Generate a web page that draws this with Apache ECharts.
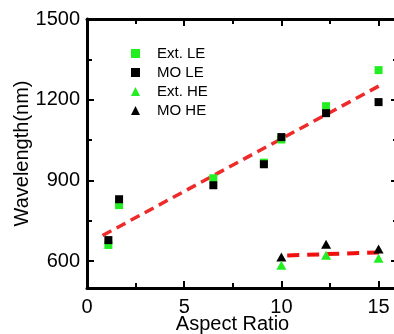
<!DOCTYPE html>
<html>
<head>
<meta charset="utf-8">
<script src="https://cdn.jsdelivr.net/npm/echarts@6/dist/echarts.min.js"></script>
<style>
  html, body { margin: 0; padding: 0; background: #fff; }
  #chart { width: 394px; height: 334px; }
</style>
</head>
<body>
<div id="chart"></div>
<script>
// 数据
var leX = [1.1, 1.65, 6.5, 9.1, 10, 12.3, 15];
var extLE = [660, 808, 908, 966, 1052, 1176, 1310];
var moLE = [678, 830, 882, 960, 1061, 1150, 1191];
var heX = [10, 12.3, 15];
var extHE = [585, 622, 611];
var moHE = [615, 663, 645];
// 拟合线 (两端点)
var fitLEX = [0.8, 15.2];
var fitLEY = [695, 1258];
var fitHEX = [10.3, 15.3];
var fitHEY = [621, 633];
// 刻度
var xMajor = [0, 5, 10, 15];
var xMinor = [2.5, 7.5, 12.5];
var yMajor = [600, 900, 1200, 1500];
var yMinor = [750, 1050, 1350];

function pairs(xs, ys) {
    return xs.map(function (x, i) { return [x, ys[i]]; });
}

var FONT = 'Liberation Sans, Arial, sans-serif';
var GREEN = '#22ee22';
var lbl = { fontSize: 20, color: '#000', fontFamily: FONT };

function axis(pos, min, max, ticks, len, showLine, showLabel) {
    return {
        type: 'value', position: pos, min: min, max: max,
        axisLine: { show: showLine, onZero: false, lineStyle: { color: '#000', width: 3 } },
        axisTick: { show: true, inside: true, length: len, customValues: ticks,
                    lineStyle: { color: '#000', width: 2 } },
        axisLabel: { show: showLabel, customValues: ticks, margin: pos === 'left' ? 7 : 9,
                     fontSize: 20, color: '#000', fontFamily: FONT,
                     formatter: function (v) { return String(v); } },
        splitLine: { show: false }
    };
}

var xAxes = [
    axis('bottom', 0, 16, xMajor, 7, true, true),
    axis('bottom', 0, 16, xMinor, 5, false, false),
    axis('top', 0, 16, xMajor, 7, true, false),
    axis('top', 0, 16, xMinor, 5, false, false)
];
xAxes[0].name = 'Aspect Ratio';
xAxes[0].nameLocation = 'middle';
xAxes[0].nameGap = 26;
xAxes[0].nameMoveOverlap = false;
xAxes[0].nameTextStyle = Object.assign({ padding: [0, 20, 0, 0] }, lbl);

var yAxes = [
    axis('left', 500, 1500, yMajor, 7, true, true),
    axis('left', 500, 1500, yMinor, 5, false, false),
    axis('right', 500, 1500, yMajor, 7, true, false),
    axis('right', 500, 1500, yMinor, 5, false, false)
];
yAxes[0].name = 'Wavelength(nm)';
yAxes[0].nameLocation = 'middle';
yAxes[0].nameGap = 55;
yAxes[0].nameMoveOverlap = false;
yAxes[0].nameTextStyle = lbl;

var myChart = echarts.init(document.getElementById('chart'));
var option = {
    animation: false,
    grid: { left: 87, top: 19, width: 311, height: 269, containLabel: false, outerBoundsMode: 'none' },
    xAxis: xAxes,
    yAxis: yAxes,
    legend: {
        orient: 'vertical', left: 126, top: 41,
        itemWidth: 9, itemHeight: 9, itemGap: 4,
        textStyle: { fontSize: 15, color: '#000', fontFamily: FONT, padding: [0, 0, 0, 12], lineHeight: 14 },
        data: [
            { name: 'Ext. LE', icon: 'rect' },
            { name: 'MO LE', icon: 'rect' },
            { name: 'Ext. HE', icon: 'triangle' },
            { name: 'MO HE', icon: 'triangle' }
        ]
    },
    series: [
        { name: 'LE fit', type: 'line', data: pairs(fitLEX, fitLEY), symbol: 'none',
          lineStyle: { color: '#ee2a2a', width: 3.5, type: [10, 6] }, z: 1 },
        { name: 'HE fit', type: 'line', data: pairs(fitHEX, fitHEY), symbol: 'none',
          lineStyle: { color: '#f01010', width: 4, type: [12, 8] }, z: 1 },
        { name: 'MO LE', type: 'scatter', data: pairs(leX, moLE), symbol: 'rect', symbolSize: 8,
          itemStyle: { color: '#000', opacity: 1 }, z: 3 },
        { name: 'Ext. LE', type: 'scatter', data: pairs(leX, extLE), symbol: 'rect', symbolSize: 8,
          itemStyle: { color: GREEN, opacity: 1 }, z: 2 },
        { name: 'MO HE', type: 'scatter', data: pairs(heX, moHE), symbol: 'triangle', symbolSize: [10, 9],
          itemStyle: { color: '#000', opacity: 1 }, z: 2 },
        { name: 'Ext. HE', type: 'scatter', data: pairs(heX, extHE), symbol: 'triangle', symbolSize: [10, 9],
          itemStyle: { color: GREEN, opacity: 1 }, z: 3 }
    ]
};
myChart.setOption(option);
</script>
</body>
</html>
